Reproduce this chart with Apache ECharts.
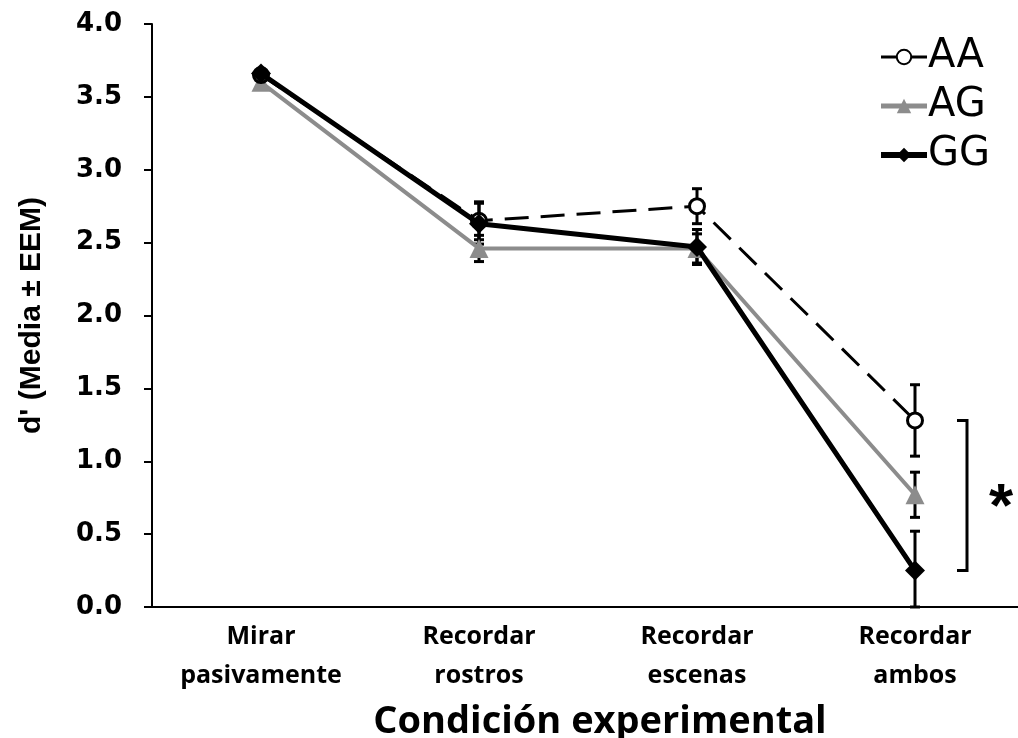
<!DOCTYPE html>
<html>
<head>
<meta charset="utf-8">
<script src="https://cdn.jsdelivr.net/npm/echarts@6/dist/echarts.min.js"></script>
<style>
  html, body { margin: 0; padding: 0; background: #fff; }
  #chart { width: 1018px; height: 738px; }
</style>
</head>
<body>
<div id="chart"></div>
<script>
// Conditions on the x axis
const categories = ['Mirar\npasivamente', 'Recordar\nrostros', 'Recordar\nescenas', 'Recordar\nambos'];

// Mean d' per genotype group
const meanAA = [3.65, 2.65, 2.75, 1.28];
const meanAG = [3.60, 2.46, 2.46, 0.77];
const meanGG = [3.66, 2.63, 2.47, 0.25];

// Standard error of the mean per group
const semAA = [0.03, 0.13, 0.12, 0.245];
const semAG = [0.03, 0.09, 0.10, 0.155];
const semGG = [0.03, 0.14, 0.12, 0.27];

// Y-axis ticks
const yTicks = [0, 0.5, 1, 1.5, 2, 2.5, 3, 3.5, 4];

// Significant comparison in the last condition (AA vs GG)
const sigCategory = 3;
const sigLabel = '*';

function errorRows(means, sems) {
  return means.map((m, i) => [i, Math.max(0, m - sems[i]), m + sems[i]]);
}

function errorBarSeries(means, sems, z) {
  return {
    type: 'custom',
    z: z,
    silent: true,
    data: errorRows(means, sems),
    renderItem: function (params, api) {
      const x = api.value(0);
      const lo = api.coord([x, api.value(1)]);
      const hi = api.coord([x, api.value(2)]);
      const cap = 5;
      const style = { stroke: '#000', lineWidth: 3 };
      return {
        type: 'group',
        children: [
          { type: 'line', shape: { x1: lo[0], y1: lo[1], x2: hi[0], y2: hi[1] }, style: style },
          { type: 'line', shape: { x1: hi[0] - cap, y1: hi[1], x2: hi[0] + cap, y2: hi[1] }, style: style },
          { type: 'line', shape: { x1: lo[0] - cap, y1: lo[1], x2: lo[0] + cap, y2: lo[1] }, style: style }
        ]
      };
    }
  };
}

const chart = echarts.init(document.getElementById('chart'));

chart.setOption({
  backgroundColor: '#fff',
  animation: false,
  grid: { left: 152, right: -6, top: 24, bottom: 131, containLabel: false, outerBoundsMode: 'none' },
  legend: {
    orient: 'vertical',
    right: 28,
    top: 37,
    padding: 0,
    itemGap: 9,
    itemWidth: 46,
    itemHeight: 18,
    data: [
      { name: 'AA', lineStyle: { type: 'solid', width: 3 } },
      { name: 'AG', lineStyle: { width: 5 } },
      { name: 'GG', lineStyle: { width: 6 } }
    ],
    textStyle: { fontFamily: 'DejaVu Sans, sans-serif', fontSize: 40, color: '#000', padding: [0, 0, 0, -4] }
  },
  xAxis: {
    type: 'category',
    data: categories,
    boundaryGap: true,
    axisLine: { lineStyle: { color: '#000', width: 2 } },
    axisTick: { show: false },
    axisLabel: {
      color: '#000',
      fontFamily: 'Open Sans, sans-serif',
      fontWeight: 'bold',
      fontSize: 25,
      lineHeight: 39,
      margin: 10
    },
    name: 'Condición experimental',
    nameLocation: 'middle',
    nameGap: 96,
    nameTextStyle: {
      color: '#000',
      fontFamily: 'Open Sans, sans-serif',
      fontWeight: 'bold',
      fontSize: 38,
      padding: [0, 0, 0, 24]
    }
  },
  yAxis: {
    type: 'value',
    min: yTicks[0],
    max: yTicks[yTicks.length - 1],
    interval: 0.5,
    splitLine: { show: false },
    axisLine: { show: true, lineStyle: { color: '#000', width: 2 } },
    axisTick: { show: true, inside: false, length: 8, lineStyle: { color: '#000', width: 2 } },
    axisLabel: {
      color: '#000',
      fontFamily: 'DejaVu Sans, sans-serif',
      fontWeight: 'bold',
      fontSize: 26,
      margin: 30,
      formatter: v => v.toFixed(1)
    },
    name: "d' (Media ± EEM)",
    nameLocation: 'middle',
    nameGap: 105,
    nameTextStyle: {
      color: '#000',
      fontFamily: 'Liberation Sans, Arial, sans-serif',
      fontWeight: 'bold',
      fontSize: 30
    }
  },
  series: [
    errorBarSeries(meanAG, semAG, 1),
    errorBarSeries(meanGG, semGG, 1),
    errorBarSeries(meanAA, semAA, 1),
    {
      name: 'AG',
      type: 'line',
      z: 2,
      data: meanAG,
      symbol: 'triangle',
      symbolSize: 19,
      itemStyle: { color: '#8c8c8c' },
      lineStyle: { color: '#8c8c8c', width: 4 }
    },
    {
      name: 'AA',
      type: 'line',
      z: 3,
      data: meanAA,
      symbol: 'circle',
      symbolSize: 15,
      itemStyle: { color: '#fff', borderColor: '#000', borderWidth: 3 },
      lineStyle: { color: '#000', width: 3, type: [24, 12] }
    },
    {
      name: 'GG',
      type: 'line',
      z: 4,
      data: meanGG,
      symbol: 'diamond',
      symbolSize: 20,
      itemStyle: { color: '#000' },
      lineStyle: { color: '#000', width: 5 }
    },
    {
      // Significance bracket spanning AA to GG in the last condition
      type: 'custom',
      silent: true,
      z: 5,
      data: [[sigCategory, meanAA[sigCategory], meanGG[sigCategory]]],
      renderItem: function (params, api) {
        const x = api.value(0);
        const top = api.coord([x, api.value(1)]);
        const bot = api.coord([x, api.value(2)]);
        const bx = top[0] + 52;
        return {
          type: 'group',
          children: [
            {
              type: 'polyline',
              shape: { points: [[bx - 10, top[1]], [bx, top[1]], [bx, bot[1]], [bx - 10, bot[1]]] },
              style: { stroke: '#000', lineWidth: 3, fill: null }
            },
            {
              type: 'text',
              style: {
                x: bx + 34,
                y: (top[1] + bot[1]) / 2 + 13,
                text: sigLabel,
                fontSize: 62,
                fontWeight: 'bold',
                fontFamily: 'Liberation Sans, Arial, sans-serif',
                fill: '#000',
                align: 'center',
                verticalAlign: 'middle'
              }
            }
          ]
        };
      }
    }
  ]
});
</script>
</body>
</html>
